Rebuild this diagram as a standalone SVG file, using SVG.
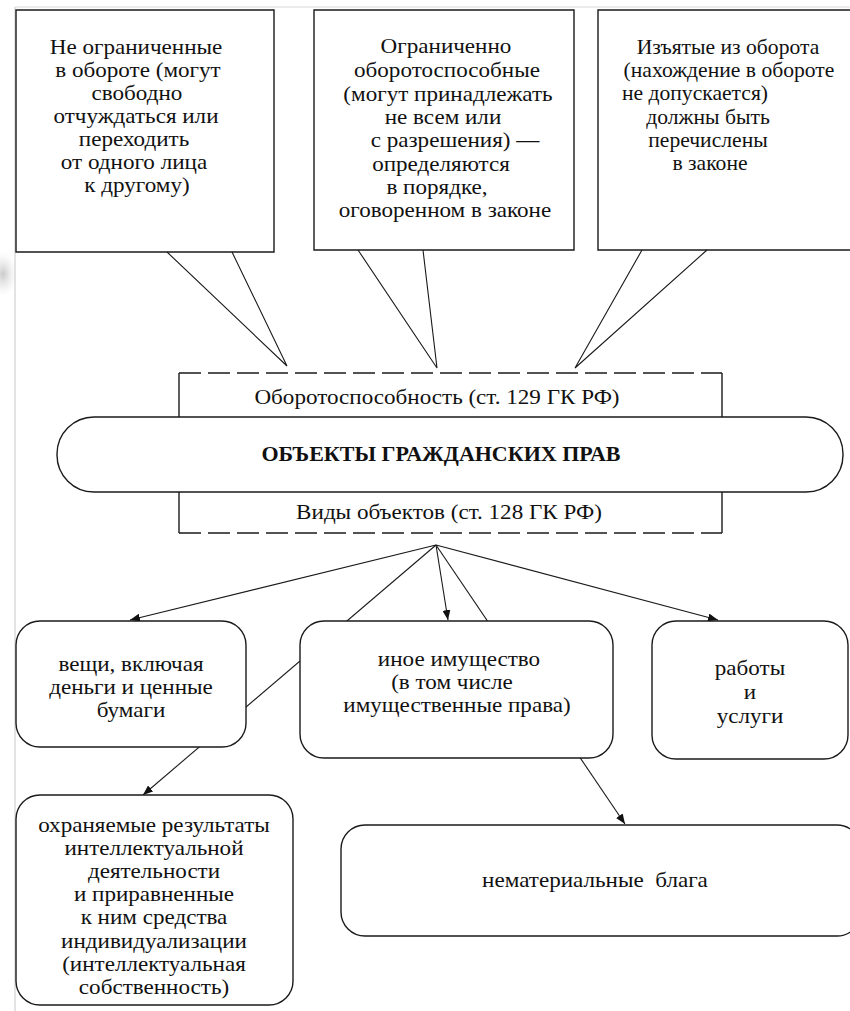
<svg xmlns="http://www.w3.org/2000/svg" width="850" height="1011" viewBox="0 0 850 1011">
<defs>
<style>
.t{font-family:"Liberation Serif","Times New Roman","DejaVu Serif",serif;font-size:21px;fill:#111;text-anchor:middle}
.b{font-weight:bold;font-size:20px}
.box{fill:#fff;stroke:#1a1a1a;stroke-width:1.4}
.ln{fill:none;stroke:#1a1a1a;stroke-width:1.1}
.dash{fill:none;stroke:#1a1a1a;stroke-width:1.4;stroke-dasharray:22 7}
</style>
<radialGradient id="blob">
<stop offset="0" stop-color="#bdbdbd" stop-opacity="0.8"/>
<stop offset="1" stop-color="#e0e0e0" stop-opacity="0"/>
</radialGradient>
<marker id="ah" viewBox="0 0 10 8" refX="10" refY="4" markerWidth="10" markerHeight="8" markerUnits="userSpaceOnUse" orient="auto">
<path d="M0,0 L10,4 L0,8 z" fill="#111"/>
</marker>
</defs>
<rect x="0" y="0" width="850" height="1011" fill="#fff"/>
<ellipse cx="3" cy="274" rx="14" ry="22" fill="url(#blob)"/>
<line x1="15" y1="7" x2="15" y2="1011" stroke="#c8c8c8" stroke-width="1"/>
<line x1="15" y1="7" x2="850" y2="7" stroke="#d8d8d8" stroke-width="1"/>

<g id="callout1">
<path class="box" d="M16,10 H274 V252 H16 Z"/>
<path class="ln" d="M167,252 L287,366 L232,252"/>
<text class="t" x="136" y="54" transform="matrix(1.1 0 0 1 -13.6 0)">Не ограниченные</text>
<text class="t" x="138" y="77" transform="matrix(1.1 0 0 1 -13.8 0)">в обороте (могут</text>
<text class="t" x="137" y="100" transform="matrix(1.1 0 0 1 -13.7 0)">свободно</text>
<text class="t" x="136" y="123" transform="matrix(1.1 0 0 1 -13.6 0)">отчуждаться или</text>
<text class="t" x="134" y="146" transform="matrix(1.1 0 0 1 -13.4 0)">переходить</text>
<text class="t" x="134" y="169" transform="matrix(1.1 0 0 1 -13.4 0)">от одного лица</text>
<text class="t" x="137" y="192" transform="matrix(1.1 0 0 1 -13.7 0)">к другому)</text>
</g>

<g id="callout2">
<path class="box" d="M314,10 H574 V250 H314 Z"/>
<path class="ln" d="M358,250 L437,368 L423,250"/>
<text class="t" x="446" y="53" transform="matrix(1.1 0 0 1 -44.6 0)">Ограниченно</text>
<text class="t" x="447" y="77" transform="matrix(1.1 0 0 1 -44.7 0)">оборотоспособные</text>
<text class="t" x="448" y="101" transform="matrix(1.1 0 0 1 -44.8 0)">(могут принадлежать</text>
<text class="t" x="443" y="124" transform="matrix(1.1 0 0 1 -44.3 0)">не всем или</text>
<text class="t" x="455" y="147" transform="matrix(1.1 0 0 1 -45.5 0)">с разрешения) —</text>
<text class="t" x="441" y="171" transform="matrix(1.1 0 0 1 -44.1 0)">определяются</text>
<text class="t" x="437" y="194" transform="matrix(1.1 0 0 1 -43.7 0)">в порядке,</text>
<text class="t" x="445" y="217" transform="matrix(1.1 0 0 1 -44.5 0)">оговоренном в законе</text>
</g>

<g id="callout3">
<path class="box" d="M860,10 H598 V250 H860"/>
<path class="ln" d="M642,250 L575,368 L707,250"/>
<text class="t" x="728" y="54" transform="matrix(1.03 0 0 1 -21.84 0)">Изъятые из оборота</text>
<text class="t" x="729" y="77" transform="matrix(1.03 0 0 1 -21.87 0)">(нахождение в обороте</text>
<text class="t" x="695" y="100" transform="matrix(1.03 0 0 1 -20.85 0)">не допускается)</text>
<text class="t" x="708" y="124" transform="matrix(1.03 0 0 1 -21.24 0)">должны быть</text>
<text class="t" x="708" y="147" transform="matrix(1.03 0 0 1 -21.24 0)">перечислены</text>
<text class="t" x="710" y="170" transform="matrix(1.03 0 0 1 -21.3 0)">в законе</text>
</g>

<g id="connectors">
<line class="ln" x1="436" y1="545" x2="130" y2="620" marker-end="url(#ah)"/>
<line class="ln" x1="436" y1="545" x2="143" y2="795" marker-end="url(#ah)"/>
<line class="ln" x1="436" y1="545" x2="448" y2="620" marker-end="url(#ah)"/>
<line class="ln" x1="436" y1="545" x2="625" y2="824" marker-end="url(#ah)"/>
<line class="ln" x1="436" y1="545" x2="718" y2="620" marker-end="url(#ah)"/>
</g>

<g id="center">
<rect x="179" y="373" width="543" height="160" fill="#fff"/>
<line class="dash" x1="179" y1="373" x2="722" y2="373"/>
<line class="dash" x1="179" y1="533" x2="722" y2="533"/>
<line class="ln" x1="179" y1="373" x2="179" y2="533" style="stroke-width:1.4"/>
<line class="ln" x1="722" y1="373" x2="722" y2="533" style="stroke-width:1.4"/>
<text class="t" x="437" y="404" transform="matrix(1.1 0 0 1 -43.7 0)">Оборотоспособность (ст. 129 ГК РФ)</text>
<rect class="box" x="57" y="417" width="786" height="75" rx="37" ry="37"/>
<text class="t b" x="441" y="461" transform="matrix(1.1 0 0 1 -44.1 0)">ОБЪЕКТЫ ГРАЖДАНСКИХ ПРАВ</text>
<text class="t" x="449" y="519" transform="matrix(1.1 0 0 1 -44.9 0)">Виды объектов (ст. 128 ГК РФ)</text>
</g>

<g id="veshchi">
<rect class="box" x="16" y="621" width="230" height="126" rx="24" ry="24"/>
<text class="t" x="131" y="671" transform="matrix(1.1 0 0 1 -13.1 0)">вещи, включая</text>
<text class="t" x="131" y="694" transform="matrix(1.1 0 0 1 -13.1 0)">деньги и ценные</text>
<text class="t" x="131" y="717" transform="matrix(1.1 0 0 1 -13.1 0)">бумаги</text>
</g>

<g id="inoe">
<rect class="box" x="300" y="621" width="313" height="137" rx="24" ry="24"/>
<text class="t" x="459" y="666" transform="matrix(1.1 0 0 1 -45.9 0)">иное имущество</text>
<text class="t" x="452" y="689" transform="matrix(1.1 0 0 1 -45.2 0)">(в том числе</text>
<text class="t" x="457" y="712" transform="matrix(1.1 0 0 1 -45.7 0)">имущественные права)</text>
</g>

<g id="raboty">
<rect class="box" x="652" y="621" width="196" height="138" rx="24" ry="24"/>
<text class="t" x="750" y="675" transform="matrix(1.1 0 0 1 -75 0)">работы</text>
<text class="t" x="750" y="699" transform="matrix(1.1 0 0 1 -75 0)">и</text>
<text class="t" x="750" y="723" transform="matrix(1.1 0 0 1 -75 0)">услуги</text>
</g>

<g id="intellekt">
<rect class="box" x="16" y="795" width="277" height="210" rx="24" ry="24"/>
<text class="t" x="154" y="832" transform="matrix(1.1 0 0 1 -15.4 0)">охраняемые результаты</text>
<text class="t" x="154" y="855" transform="matrix(1.1 0 0 1 -15.4 0)">интеллектуальной</text>
<text class="t" x="154" y="878" transform="matrix(1.1 0 0 1 -15.4 0)">деятельности</text>
<text class="t" x="154" y="901" transform="matrix(1.1 0 0 1 -15.4 0)">и приравненные</text>
<text class="t" x="154" y="924" transform="matrix(1.1 0 0 1 -15.4 0)">к ним средства</text>
<text class="t" x="154" y="948" transform="matrix(1.1 0 0 1 -15.4 0)">индивидуализации</text>
<text class="t" x="154" y="971" transform="matrix(1.1 0 0 1 -15.4 0)">(интеллектуальная</text>
<text class="t" x="154" y="994" transform="matrix(1.1 0 0 1 -15.4 0)">собственность)</text>
</g>

<g id="nematerial">
<rect class="box" x="341" y="825" width="520" height="111" rx="24" ry="24"/>
<text class="t" x="595" y="887" xml:space="preserve" transform="matrix(1.1 0 0 1 -59.5 0)">нематериальные  блага</text>
</g>
</svg>
